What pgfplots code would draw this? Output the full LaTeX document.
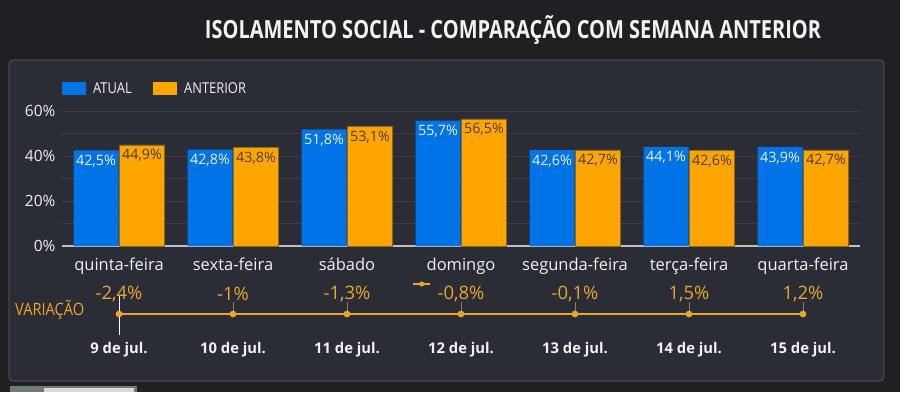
\documentclass[border=0pt]{standalone}
\usepackage{pgfplots}
\pgfplotsset{compat=1.18}
\usepackage{fontspec}
\setmainfont{Open Sans}
\newfontfamily\condfont[FakeStretch=0.86]{Open Sans}
\newfontfamily\condbold[FakeStretch=0.80]{Open Sans Bold}
\definecolor{bgc}{HTML}{1F2023}
\definecolor{panel}{HTML}{2A2C36}
\definecolor{atual}{HTML}{0073E6}
\definecolor{anter}{HTML}{FFA500}
\definecolor{anterdark}{HTML}{8A6A20}
\definecolor{labdark}{HTML}{4A3C22}
\definecolor{gridc}{HTML}{3A3C47}
\definecolor{varc}{HTML}{EBA628}
\definecolor{txt}{HTML}{F2F2F2}
\begin{document}
\begin{tikzpicture}
\useasboundingbox (0pt,0pt) rectangle (900pt,392pt);
% background and panel
\fill[bgc] (0pt,0pt) rectangle (900pt,392pt);
\fill[panel, rounded corners=4pt] (9pt,11pt) rectangle (884pt,332pt);
\draw[gridc!80!white, line width=0.6pt, rounded corners=4pt] (9pt,11pt) rectangle (884pt,332pt);
\fill[gridc!70!white] (10pt,0pt) rectangle (137pt,6pt);
\fill[white!80!gridc] (44pt,0pt) rectangle (134pt,4pt);
% title
\node[txt, anchor=center] at (513pt,362pt) {\condbold\fontsize{25pt}{29pt}\selectfont ISOLAMENTO SOCIAL - COMPARAÇÃO COM SEMANA ANTERIOR};
% legend
\fill[atual] (62pt,297pt) rectangle (86pt,310pt);
\node[txt, anchor=west, inner sep=0pt] at (93pt,303.5pt) {\condfont\fontsize{15pt}{17pt}\selectfont ATUAL};
\fill[anter] (153pt,297pt) rectangle (177pt,310pt);
\node[txt, anchor=west, inner sep=0pt] at (184pt,303.5pt) {\condfont\fontsize{15pt}{17pt}\selectfont ANTERIOR};
% VARIACAO label
\node[varc, anchor=west, inner sep=0pt] at (15pt,82pt) {\condfont\fontsize{17pt}{19pt}\selectfont VARIAÇÃO};

\begin{axis}[
  at={(62pt,146pt)}, anchor=south west,
  scale only axis, width=798pt, height=135pt,
  xmin=-0.5, xmax=6.5, ymin=0, ymax=60,
  ybar, bar width=45pt,
  axis x line*=bottom, axis y line*=left,
  x axis line style={draw=white!75!black, line width=1.2pt},
  y axis line style={draw=none},
  xtick={0,...,6},
  xticklabels={quinta-feira,sexta-feira,sábado,domingo,segunda-feira,terça-feira,quarta-feira},
  xtick style={draw=none},
  xticklabel style={txt, font=\fontsize{16.5pt}{18pt}\selectfont, yshift=-4pt},
  ytick={0,20,40,60}, minor ytick={10,30,50},
  ymajorgrids, yminorgrids,
  major grid style={gridc, line width=0.8pt},
  minor grid style={gridc, line width=0.8pt},
  yticklabel={\pgfmathprintnumber{\tick}\%},
  yticklabel style={txt, font=\fontsize{15.5pt}{17pt}\selectfont, xshift=-3pt},
  ytick style={draw=none}, minor tick style={draw=none},
  /pgf/number format/assume math mode=true,
  clip=false,
  nodes near coords={\pgfmathprintnumber[fixed,fixed zerofill,precision=1,use comma,assume math mode=true]{\pgfplotspointmeta}\%},
  every node near coord/.append style={anchor=north, yshift=-1pt, font=\fontsize{14.3pt}{16pt}\selectfont},
]
\addplot[fill=atual, draw=none, bar shift=-23pt, nodes near coords style={txt}] coordinates {
 (0,42.5) (1,42.8) (2,51.8) (3,55.7) (4,42.6) (5,44.1) (6,43.9)};
\addplot[fill=anter, draw=anterdark, line width=0.5pt, bar shift=23pt, nodes near coords style={labdark}] coordinates {
 (0,44.9) (1,43.8) (2,53.1) (3,56.5) (4,42.7) (5,42.6) (6,42.7)};
\end{axis}

\begin{axis}[
  at={(62pt,78pt)}, anchor=west,
  scale only axis, width=798pt, height=40pt,
  xmin=-0.5, xmax=6.5, ymin=-1, ymax=1,
  axis line style={draw=none},
  xtick={0,...,6},
  xticklabels={9 de jul.,10 de jul.,11 de jul.,12 de jul.,13 de jul.,14 de jul.,15 de jul.},
  xtick style={draw=none},
  xticklabel style={txt, font=\fontsize{14.8pt}{17pt}\selectfont\bfseries, yshift=-5pt},
  ytick=\empty,
  clip=false,
]
\addplot[ycomb, gray, line width=0.8pt, no marks] coordinates {(0,0.6)(1,0.6)(2,0.6)(3,0.6)(4,0.6)(5,0.6)(6,0.6)};
\addplot[white, line width=0.8pt, no marks] coordinates {(0,0.9)(0,-1.05)};
\addplot[varc, line width=2pt, mark=*, mark size=2.3pt,
  point meta=explicit symbolic,
  nodes near coords,
  every node near coord/.append style={anchor=center, yshift=20pt, varc, font=\fontsize{18.5pt}{20pt}\selectfont},
] coordinates {
 (0,0) [-2,4\%] (1,0) [-1\%] (2,0) [-1,3\%] (3,0) [-0,8\%] (4,0) [-0,1\%] (5,0) [1,5\%] (6,0) [1,2\%]};
\addplot[varc, line width=2pt, no marks] coordinates {(2.58,1.5)(2.73,1.5)};
\addplot[varc, only marks, mark=*, mark size=2.3pt] coordinates {(2.655,1.5)};
\end{axis}
\end{tikzpicture}
\end{document}
